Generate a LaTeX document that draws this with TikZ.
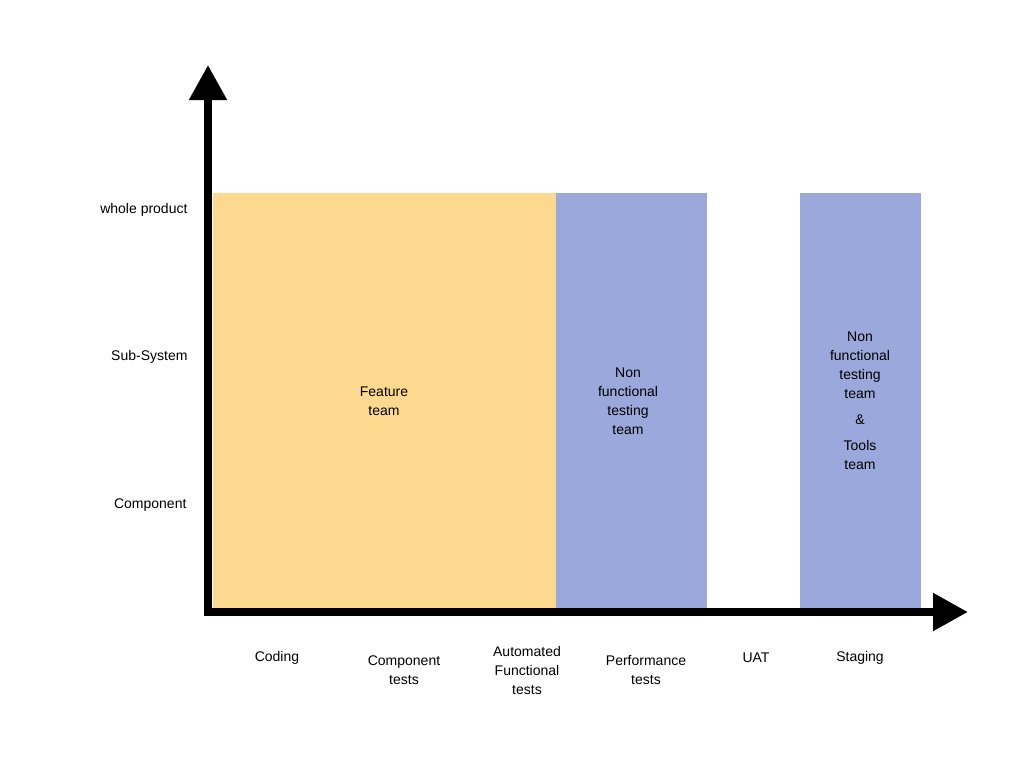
\documentclass[tikz,border=0pt]{standalone}
\usepackage{fontspec}
\setmainfont{Liberation Sans}
\usetikzlibrary{arrows.meta}
\definecolor{feat}{HTML}{FDD98F}
\definecolor{nft}{HTML}{9BA8DB}
\tikzset{lbl/.style={font=\fontsize{14}{19}\selectfont, align=center},
axis/.style={line width=8pt,-{Triangle[length=35pt,width=36pt]}}}
\begin{document}
\begin{tikzpicture}[x=1pt,y=-1pt]
\useasboundingbox (0,0) rectangle (1024,768);
\fill[feat] (213,193) rectangle (556,609);
\fill[nft] (556,193) rectangle (707,609);
\fill[nft] (800,193) rectangle (921,609);
\coordinate (o) at (208,612);
\coordinate (yt) at (208,65);
\coordinate (xt) at (968,612);
\draw[axis] (208,616) -- (yt);
\draw[axis] (204,612) -- (xt);
\node[lbl,anchor=east] (l1) at (191,210) {whole product};
\node[lbl,anchor=east] (l2) at (191,357) {Sub-System};
\node[lbl,anchor=east] (l3) at (190,505) {Component};
\node[lbl] (f) at (384,401) {Feature\\team};
\node[lbl] (n1) at (628,401) {Non\\functional\\testing\\team};
\node[lbl] (n2) at (860,401) {Non\\functional\\testing\\team\\[7pt]\&\\[7pt]Tools\\team};
\node[lbl] (c1) at (277,658) {Coding};
\node[lbl] (c2) at (404,670) {Component\\tests};
\node[lbl] (c3) at (527,670) {Automated\\Functional\\tests};
\node[lbl] (c4) at (646,670) {Performance\\tests};
\node[lbl] (c5) at (756,658) {UAT};
\node[lbl] (c6) at (860,658) {Staging};
\end{tikzpicture}
\end{document}
